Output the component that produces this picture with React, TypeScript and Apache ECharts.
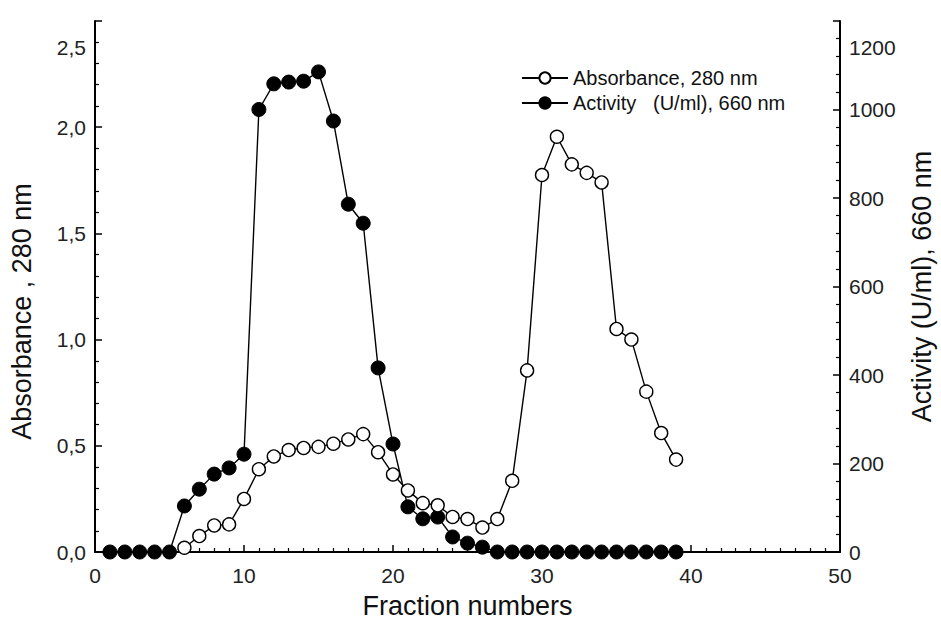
import React, { useEffect, useRef } from "react";
import * as echarts from "echarts";

const fractions = [1, 2, 3, 4, 5, 6, 7, 8, 9, 10, 11, 12, 13, 14, 15, 16, 17, 18, 19, 20, 21, 22, 23, 24, 25, 26, 27, 28, 29, 30, 31, 32, 33, 34, 35, 36, 37, 38, 39];

const absorbanceX = [6, 7, 8, 9, 10, 11, 12, 13, 14, 15, 16, 17, 18, 19, 20, 21, 22, 23, 24, 25, 26, 27, 28, 29, 30, 31, 32, 33, 34, 35, 36, 37, 38, 39];
const absorbance = [0.02, 0.075, 0.125, 0.13, 0.25, 0.39, 0.45, 0.48, 0.49, 0.495, 0.51, 0.53, 0.555, 0.47, 0.365, 0.29, 0.23, 0.22, 0.165, 0.155, 0.115, 0.155, 0.335, 0.855, 1.775, 1.955, 1.825, 1.785, 1.74, 1.05, 1.0, 0.755, 0.56, 0.435];

const activity = [0, 0, 0, 0, 0, 104, 142, 176, 190, 221, 1000, 1058, 1062, 1064, 1085, 974, 786, 743, 416, 244, 102, 75, 79, 34, 20, 11, 0, 0, 0, 0, 0, 0, 0, 0, 0, 0, 0, 0, 0];

const xTicks = { min: 0, max: 50, interval: 10 };
const leftTicks = { min: 0, max: 2.5, interval: 0.5 };
const rightTicks = { min: 0, max: 1200, interval: 200 };

const seriesNames = ["Absorbance, 280 nm", "Activity   (U/ml), 660 nm"];

export default function App() {
  const ref = useRef<HTMLDivElement>(null);
  useEffect(() => {
    if (!ref.current) return;
    const chart = echarts.init(ref.current, null, { renderer: "svg" });
    const font = "Liberation Sans, Arial, sans-serif";
    const axisCommon = {
      axisLine: { show: true, lineStyle: { color: "#000", width: 2 } },
      axisTick: { show: true, inside: true, length: 7, lineStyle: { color: "#000", width: 1.5 } },
      splitLine: { show: false },
    };
    const nameStyle = { fontFamily: font, fontSize: 27, color: "#111" };
    const topRich = {
      top: { padding: [52, 0, 0, 0], fontFamily: font, fontSize: 21, color: "#222" },
    };
    chart.setOption({
      animation: false,
      backgroundColor: "#fff",
      grid: { left: 95, right: 101, top: 21, bottom: 76, containLabel: false, outerBoundsMode: "none" },
      legend: {
        orient: "vertical",
        left: 516,
        top: 63,
        itemWidth: 46,
        itemHeight: 14,
        itemGap: 5,
        textStyle: { fontFamily: font, fontSize: 20, color: "#111" },
        data: seriesNames,
      },
      xAxis: {
        type: "value",
        ...xTicks,
        name: "Fraction numbers",
        nameLocation: "middle",
        nameGap: 40,
        nameTextStyle: nameStyle,
        ...axisCommon,
        minorTick: { show: true, splitNumber: 10, length: 4, lineStyle: { color: "#000", width: 1.2 } },
        axisLabel: { fontFamily: font, fontSize: 21, color: "#222", margin: 13 },
      },
      yAxis: [
        {
          type: "value",
          position: "left",
          ...leftTicks,
          name: "Absorbance , 280 nm",
          nameLocation: "middle",
          nameRotate: 90,
          nameGap: 60,
          nameTextStyle: { ...nameStyle, padding: [0, 50, 0, 0] },
          ...axisCommon,
          minorTick: { show: true, splitNumber: 5, length: 4, lineStyle: { color: "#000", width: 1.2 } },
          axisLabel: {
            fontFamily: font,
            fontSize: 21,
            color: "#222",
            margin: 9,
            formatter: (v: number) => {
              const s = v.toFixed(1).replace(".", ",");
              return v === leftTicks.max ? "{top|" + s + "}" : s;
            },
            rich: topRich,
          },
        },
        {
          type: "value",
          position: "right",
          ...rightTicks,
          name: "Activity (U/ml), 660 nm",
          nameLocation: "middle",
          nameRotate: 90,
          nameGap: 68,
          nameTextStyle: nameStyle,
          ...axisCommon,
          minorTick: { show: true, splitNumber: 5, length: 4, lineStyle: { color: "#000", width: 1.2 } },
          axisLabel: {
            fontFamily: font,
            fontSize: 21,
            color: "#222",
            margin: 9,
            formatter: (v: number) => (v === rightTicks.max ? "{top|" + v + "}" : String(v)),
            rich: topRich,
          },
        },
      ],
      series: [
        {
          name: seriesNames[0],
          type: "line",
          yAxisIndex: 0,
          data: absorbanceX.map((x, i) => [x, absorbance[i]]),
          symbol: "circle",
          symbolSize: 13,
          lineStyle: { color: "#000", width: 1.4 },
          itemStyle: { color: "#fff", borderColor: "#000", borderWidth: 1.4 },
          z: 3,
        },
        {
          name: seriesNames[1],
          type: "line",
          yAxisIndex: 1,
          data: fractions.map((x, i) => [x, activity[i]]),
          symbol: "circle",
          symbolSize: 14,
          lineStyle: { color: "#000", width: 1.4 },
          itemStyle: { color: "#000", borderColor: "#000", borderWidth: 1 },
          z: 2,
        },
      ],
    });
    return () => chart.dispose();
  }, []);
  return <div ref={ref} style={{ width: 941, height: 628, position: "absolute", left: 0, top: 0 }} />;
}
